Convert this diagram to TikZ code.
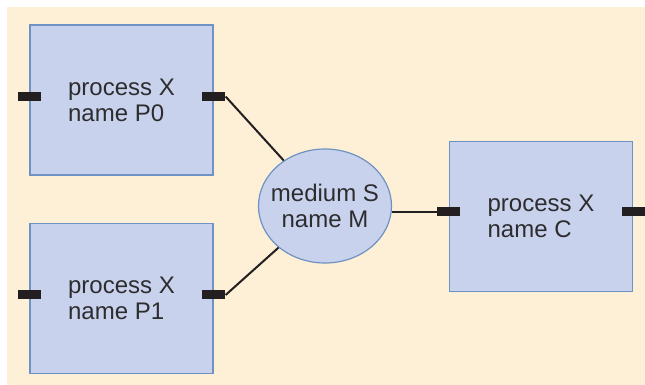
\documentclass[tikz,border=0pt]{standalone}
\usepackage{fontspec}
\setmainfont{Liberation Sans}
\usepackage{tikz}
\usetikzlibrary{positioning}
\usetikzlibrary{shapes}
\usetikzlibrary{calc}
\definecolor{bgcream}{RGB}{253,240,214}
\definecolor{boxfill}{RGB}{201,210,236}
\definecolor{boxline}{RGB}{110,146,196}
\definecolor{portblack}{RGB}{35,31,32}
\definecolor{textgray}{RGB}{45,45,48}
\tikzset{
    process/.style={
        shape=rectangle, draw=boxline, fill=boxfill, line width=0.7pt,
        minimum width=91.5pt, minimum height=75pt, inner sep=0pt,
        align=left, text=textgray, font=\fontsize{12}{13}\selectfont
    },
    medium/.style={
        shape=ellipse, draw=boxline, fill=boxfill, line width=0.6pt,
        minimum width=66pt, minimum height=57pt, inner xsep=-3.5pt, inner ysep=0pt,
        align=center, text=textgray, font=\fontsize{12}{13}\selectfont
    },
    port/.style={
        shape=rectangle, fill=portblack, minimum width=11.5pt,
        minimum height=4.5pt, inner sep=0pt
    },
    link/.style={draw=portblack, line width=1pt}
}

\begin{document}
\begin{tikzpicture}[x=0.5pt, y=-0.5pt]
		\fill[bgcream] (7,7) rectangle (645,385);
		\useasboundingbox (0,0) rectangle (645,385);

		\node[process] (P0) at (121.5,100) {process X\\name P0};
		\node[process] (P1) at (121.5,298.5) {process X\\name P1};
		\node[medium] (M) at (325,206) {medium S\\name M};
		\node[process] (C) at (541,216.5) {process X\\name C};

		\node[port] (P0l) at ([yshift=1.75pt]P0.west) {};
		\node[port] (P0r) at ([yshift=1.75pt]P0.east) {};
		\node[port] (P1l) at ([yshift=1.75pt]P1.west) {};
		\node[port] (P1r) at ([yshift=1.75pt]P1.east) {};
		\node[port] (Cl) at ([yshift=2.25pt]C.west) {};
		\node[port] (Cr) at ([yshift=2.25pt]C.east) {};

		\path [link] (P0r.east) edge (M);
		\path [link] (P1r.east) edge (M);
		\path [link] (Cl.west) edge (Cl.west -| M.east);
		\end{tikzpicture}
\end{document}
